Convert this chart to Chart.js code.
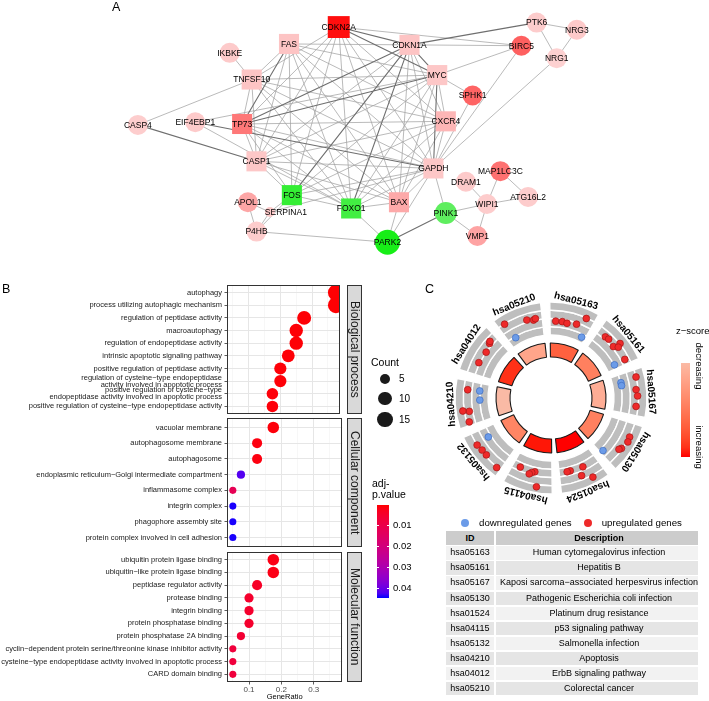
<!DOCTYPE html>
<html><head><meta charset="utf-8">
<script src="https://cdn.jsdelivr.net/npm/chart.js@4.4.1/dist/chart.umd.min.js"></script>
<style>
html,body{margin:0;padding:0;background:#fff;}
body{width:709px;height:701px;position:relative;overflow:hidden;font-family:"Liberation Sans",Arial,Helvetica,sans-serif;color:#000;}
canvas{position:absolute;}
.t{position:absolute;white-space:nowrap;line-height:1.15;}
.strip{position:absolute;background:#D9D9D9;border:1px solid #333;box-sizing:border-box;font-size:12px;color:#1a1a1a;display:flex;align-items:center;justify-content:center;overflow:hidden;}
.strip span{writing-mode:vertical-rl;white-space:nowrap;}
.dot{position:absolute;border-radius:50%;}
#tbl{position:absolute;left:446px;top:531px;width:252px;height:170px;overflow:hidden;}
.cell{position:absolute;font-size:9px;line-height:13.5px;text-align:center;white-space:nowrap;overflow:visible;}
</style></head><body>
<canvas id="cA" width="709" height="280" style="left:0;top:0"></canvas>
<canvas id="cBP" width="348" height="153" style="left:0;top:273px"></canvas>
<canvas id="cCC" width="348" height="153" style="left:0;top:406px"></canvas>
<canvas id="cMF" width="348" height="161" style="left:0;top:540px"></canvas>
<canvas id="cC1" width="250" height="250" style="left:426px;top:273px"></canvas>
<canvas id="cC2" width="250" height="250" style="left:426px;top:273px"></canvas>
<div id="html"></div>
<script>
// ================= DATA =================
// Panel A: PPI network (genes, logFC, key-gene flag, interactions)
const geneNames = ['CDKN2A','FAS','IKBKE','TNFSF10','CASP4','EIF4EBP1','TP73','CASP1','CDKN1A','MYC','CXCR4','GAPDH','BAX','FOS','FOXO1','PARK2','PINK1','APOL1','SERPINA1','P4HB','PTK6','NRG3','NRG1','BIRC5','SPHK1','MAP1LC3C','DRAM1','ATG16L2','WIPI1','VMP1'];
const geneLogFC = [4.0,1.25,1.15,1.25,1.1,1.15,2.4,1.2,1.25,1.2,1.45,1.2,1.65,-2.6,-2.4,-3.0,-2.0,1.7,1.15,1.12,1.12,1.15,1.05,2.75,2.7,2.5,1.15,1.12,1.12,1.75];
const geneIsKey = [1,1,0,1,0,0,1,1,1,1,1,1,1,1,1,0,0,0,0,0,0,0,0,0,0,0,0,0,0,0];
const interactionsStrong = [['TP73','MYC'],['TP73','CDKN1A'],['TP73','FAS'],['CDKN1A','FOXO1'],['CDKN1A','FOS'],['CDKN2A','MYC'],['CDKN2A','CDKN1A'],['PINK1','PARK2'],['CDKN1A','PTK6'],['MYC','GAPDH'],['CDKN1A','MYC'],['CASP4','CASP1'],['EIF4EBP1','GAPDH']];
const interactionsWeak = [
['IKBKE','TNFSF10'],['CASP4','TNFSF10'],['PTK6','NRG3'],['PTK6','NRG1'],['NRG3','NRG1'],
['BIRC5','CDKN1A'],['BIRC5','CDKN2A'],['BIRC5','MYC'],['BIRC5','GAPDH'],['SPHK1','MYC'],['SPHK1','GAPDH'],['NRG1','GAPDH'],
['MAP1LC3C','WIPI1'],['MAP1LC3C','ATG16L2'],['DRAM1','WIPI1'],['WIPI1','ATG16L2'],['WIPI1','PINK1'],['WIPI1','VMP1'],['PINK1','VMP1'],
['PINK1','GAPDH'],['PARK2','GAPDH'],['PARK2','BAX'],['PARK2','P4HB'],['PARK2','FOXO1'],
['APOL1','SERPINA1'],['APOL1','P4HB'],['SERPINA1','P4HB'],['SERPINA1','FOS'],['SERPINA1','GAPDH'],['P4HB','FOS'],
['CDKN2A','GAPDH'],['CDKN2A','TP73'],['CDKN2A','CASP1'],['CDKN2A','FOXO1'],['CDKN2A','BAX'],['CDKN2A','FOS'],['CDKN2A','CXCR4'],['CDKN2A','TNFSF10'],
['FAS','CDKN1A'],['FAS','MYC'],['FAS','GAPDH'],['FAS','BAX'],['FAS','CXCR4'],['FAS','CASP1'],['FAS','FOS'],['FAS','FOXO1'],['FAS','TNFSF10'],
['TNFSF10','MYC'],['TNFSF10','GAPDH'],['TNFSF10','BAX'],['TNFSF10','CASP1'],['TNFSF10','CXCR4'],['TNFSF10','FOXO1'],['TNFSF10','TP73'],
['TP73','GAPDH'],['TP73','BAX'],['TP73','CASP1'],['TP73','FOXO1'],['TP73','FOS'],['TP73','CXCR4'],
['EIF4EBP1','MYC'],['EIF4EBP1','FOXO1'],
['CASP1','GAPDH'],['CASP1','MYC'],['CASP1','BAX'],['CASP1','CXCR4'],['CASP1','FOXO1'],['CASP1','CDKN1A'],['CASP1','FOS'],
['CDKN1A','GAPDH'],['CDKN1A','BAX'],['CDKN1A','CXCR4'],
['MYC','CXCR4'],['MYC','BAX'],['MYC','FOXO1'],['MYC','FOS'],
['CXCR4','GAPDH'],['CXCR4','FOXO1'],['CXCR4','FOS'],['CXCR4','BAX'],
['GAPDH','BAX'],['GAPDH','FOXO1'],['GAPDH','FOS'],['FOS','FOXO1'],['BAX','FOXO1']];

// Panel B: GO enrichment
const bpTerms = ['autophagy','process utilizing autophagic mechanism','regulation of peptidase activity','macroautophagy','regulation of endopeptidase activity','intrinsic apoptotic signaling pathway','positive regulation of peptidase activity',['regulation of cysteine\u2212type endopeptidase','activity involved in apoptotic process'],['positive regulation of cysteine\u2212type','endopeptidase activity involved in apoptotic process'],'positive regulation of cysteine\u2212type endopeptidase activity'];
const bpRatio = [0.375,0.375,0.275,0.25,0.25,0.225,0.2,0.2,0.175,0.175];
const bpCount = [15,15,11,10,10,9,8,8,7,7];
const bpPadj = [0.0002,0.0002,0.0004,0.0004,0.0004,0.0005,0.0006,0.0006,0.0007,0.0007];
const ccTerms = ['vacuolar membrane','autophagosome membrane','autophagosome','endoplasmic reticulum\u2212Golgi intermediate compartment','inflammasome complex','integrin complex','phagophore assembly site','protein complex involved in cell adhesion'];
const ccRatio = [0.175,0.125,0.125,0.075,0.05,0.05,0.05,0.05];
const ccCount = [7,5,5,3,2,2,2,2];
const ccPadj = [0.0008,0.0012,0.0012,0.042,0.012,0.0445,0.0445,0.0445];
const mfTerms = ['ubiquitin protein ligase binding','ubiquitin\u2212like protein ligase binding','peptidase regulator activity','protease binding','integrin binding','protein phosphatase binding','protein phosphatase 2A binding','cyclin\u2212dependent protein serine/threonine kinase inhibitor activity','cysteine\u2212type endopeptidase activity involved in apoptotic process','CARD domain binding'];
const mfRatio = [0.175,0.175,0.125,0.1,0.1,0.1,0.075,0.05,0.05,0.05];
const mfCount = [7,7,5,4,4,4,3,2,2,2];
const mfPadj = [0.0018,0.0018,0.004,0.005,0.005,0.005,0.006,0.0075,0.0075,0.0075];
const countBreaks = [5,10,15];
const padjBreaks = [0.01,0.02,0.03,0.04];

// Panel C: KEGG circle
const keggIDs = ['hsa05163','hsa05161','hsa05167','hsa05130','hsa01524','hsa04115','hsa05132','hsa04210','hsa04012','hsa05210'];
const keggDesc = ['Human cytomegalovirus infection','Hepatitis B','Kaposi sarcoma\u2212associated herpesvirus infection','Pathogenic Escherichia coli infection','Platinum drug resistance','p53 signaling pathway','Salmonella infection','Apoptosis','ErbB signaling pathway','Colorectal cancer'];
const keggZscore = [1.75,1.45,0.95,1.45,2.24,2.2,1.4,0.8,2.1,1.05];
const keggGeneTerm = [0,0,0,0,0,0, 1,1,1,1,1,1,1, 2,2,2,2,2,2, 3,3,3,3,3, 4,4,4,4,4, 5,5,5,5,5, 6,6,6,6,6, 7,7,7,7,7,7, 8,8,8,8, 9,9,9,9,9];
const keggGeneOrder = [.14,.30,.42,.65,.81,.90, .21,.30,.50,.54,.58,.89,.89, .16,.21,.29,.43,.57,.80, .30,.41,.60,.65,.92, .29,.39,.50,.72,.80, .33,.43,.50,.55,.81, .09,.44,.58,.73,.75, .08,.31,.34,.56,.80,.80, .29,.59,.80,.84, .15,.21,.64,.79,.84];
const keggGeneLogFC = [.4,.44,.28,.64,2.48,-1.44, 1.4,1.52,1.2,2.68,1.92,1.7,-0.72, 2.6,-0.72,-0.72,2.16,2.4,2.16, 2.64,2.8,2.4,2.1,-0.24, 3.0,.16,1.74,.06,.1, 3.1,.1,.4,.8,.1, 2.74,2.3,2.34,2.6,-0.26, 2.1,1.6,2.92,-0.8,1.8,-0.72, 1.1,.9,1.48,1.7, 2.52,-1.08,1.36,1.0,1.2];

// ================= LAYOUT / STYLE =================
const networkLayout = {CDKN2A:[338,13],FAS:[286,32],IKBKE:[224,42],TNFSF10:[247,72],CASP4:[128,123],EIF4EBP1:[188,120],TP73:[237,122],CASP1:[252,164],CDKN1A:[412,33],MYC:[441,67],CXCR4:[450,119],GAPDH:[437,172],BAX:[401,210],FOS:[289,202],FOXO1:[351,217],PARK2:[389,255],PINK1:[450,222],APOL1:[243,210],SERPINA1:[266,221],P4HB:[252,243],PTK6:[545,8],NRG3:[587,16],NRG1:[566,48],BIRC5:[529,34],SPHK1:[478,90],MAP1LC3C:[507,175],DRAM1:[471,187],ATG16L2:[536,204],WIPI1:[493,212],VMP1:[483,248]};
const nodeRadius = {PARK2:12.5,PINK1:11,SERPINA1:5,CDKN2A:15.5};
const labelShift = {SERPINA1:16};
const FONT = '"Liberation Sans", Arial, Helvetica, sans-serif';
Chart.defaults.font.family = FONT;
Chart.defaults.animation = false;
Chart.defaults.events = [];
Chart.defaults.plugins.legend.display = false;
Chart.defaults.plugins.tooltip.enabled = false;

// ---- colour helpers (Lab interpolation like ggplot) ----
function s2l(c){c/=255;return c<=0.04045?c/12.92:Math.pow((c+0.055)/1.055,2.4);}
function l2s(c){c=c<=0.0031308?12.92*c:1.055*Math.pow(c,1/2.4)-0.055;return Math.round(Math.min(1,Math.max(0,c))*255);}
function hex2rgb(h){return [1,3,5].map(i=>parseInt(h.substr(i,2),16));}
function rgb2lab(rgb){const [r,g,b]=rgb.map(s2l);const x=(r*0.4124+g*0.3576+b*0.1805)/0.95047,y=r*0.2126+g*0.7152+b*0.0722,z=(r*0.0193+g*0.1192+b*0.9505)/1.08883;const f=t=>t>0.008856?Math.cbrt(t):7.787*t+16/116;const fx=f(x),fy=f(y),fz=f(z);return [116*fy-16,500*(fx-fy),200*(fy-fz)];}
function lab2rgb([L,a,bb]){const fy=(L+16)/116,fx=fy+a/500,fz=fy-bb/200;const fi=t=>t>0.206893?t*t*t:(t-16/116)/7.787;const x=fi(fx)*0.95047,y=fi(fy),z=fi(fz)*1.08883;return [l2s(x*3.2406-y*1.5372-z*0.4986),l2s(-x*0.9689+y*1.8758+z*0.0415),l2s(x*0.0557-y*0.2040+z*1.0570)];}
function labMix(h1,h2,t){t=Math.max(0,Math.min(1,t));const a=rgb2lab(hex2rgb(h1)),b=rgb2lab(hex2rgb(h2));const c=lab2rgb(a.map((v,i)=>v+(b[i]-v)*t));return 'rgb('+c.join(',')+')';}
function rgbMix(h1,h2,t){t=Math.max(0,Math.min(1,t));const a=hex2rgb(h1),b=hex2rgb(h2);return 'rgb('+a.map((v,i)=>Math.round(v+(b[i]-v)*t)).join(',')+')';}
const P_MIN=0, P_MAX=0.0448;
const padjColor = p => labMix('#FF0000','#0000FF',(p-P_MIN)/(P_MAX-P_MIN));
const Z_MIN=0.8, Z_MAX=2.24;
const zColor = z => labMix('#FABAA5','#FF0000',(z-Z_MIN)/(Z_MAX-Z_MIN));
const nodeColor = v => v>0 ? rgbMix('#FDD4D4','#FF0E0E',(v-1)/3) : rgbMix('#66EE66','#10EE10',(-v-1.9)/1.2);

// ================= PANEL A =================
const posOf = g => ({x:networkLayout[g][0], y:networkLayout[g][1]});
const edgePts = list => list.flatMap(([a,b])=>[posOf(a),posOf(b),{x:null,y:null}]);
const nodeLabelPlugin = {id:'nodeLabels', afterDatasetsDraw(chart){
  const ctx=chart.ctx, meta=chart.getDatasetMeta(0);
  ctx.save(); ctx.font='8.5px '+FONT; ctx.fillStyle='#000'; ctx.textAlign='center'; ctx.textBaseline='middle';
  meta.data.forEach((el,i)=>ctx.fillText(geneNames[i], el.x+(labelShift[geneNames[i]]||0), el.y+0.5));
  ctx.restore();
}};
new Chart(document.getElementById('cA'), {
  type:'scatter',
  data:{datasets:[
    {data:geneNames.map(posOf), order:0,
     pointStyle:geneNames.map((g,i)=>geneIsKey[i]?'rect':'circle'),
     pointRadius:geneNames.map((g,i)=>nodeRadius[g]||(geneIsKey[i]?14.2:10)),
     pointBackgroundColor:geneLogFC.map(nodeColor), pointBorderWidth:0},
    {data:edgePts(interactionsStrong), order:1, showLine:true, spanGaps:false, borderColor:'#6f6f6f', borderWidth:1.1, pointRadius:0},
    {data:edgePts(interactionsWeak), order:2, showLine:true, spanGaps:false, borderColor:'#a3a3a3', borderWidth:0.75, pointRadius:0}
  ]},
  options:{responsive:false, clip:false, layout:{padding:0},
    scales:{x:{type:'linear',display:false,min:0,max:709}, y:{type:'linear',display:false,min:0,max:280,reverse:true}}},
  plugins:[nodeLabelPlugin]
});

// ================= PANEL B =================
const panelBorder = {id:'pb', afterDraw(chart){const {ctx,chartArea:a}=chart;ctx.save();ctx.strokeStyle='#333';ctx.lineWidth=1;ctx.strokeRect(Math.round(a.left)+0.5,Math.round(a.top)+0.5,Math.round(a.right-a.left)-1,Math.round(a.bottom-a.top)-1);ctx.restore();}};
const isMajor = v => Math.round(v*100)%10===0;
function facet(id, terms, ratio, count, padj, bottom){
  const n=terms.length;
  new Chart(document.getElementById(id), {
    type:'scatter',
    data:{datasets:[{data:ratio.map((r,i)=>({x:r,y:i})), pointRadius:count.map(c=>1+1.8*Math.sqrt(c)), pointBackgroundColor:padj.map(padjColor), pointBorderWidth:0}]},
    options:{responsive:false, layout:{padding:{top:12,bottom:bottom?0:12,left:0,right:1}},
      scales:{
        x:{type:'linear',min:0.032,max:0.388,border:{display:false},
          ticks:{stepSize:0.05,includeBounds:false,display:bottom,autoSkip:false,maxRotation:0,padding:0,color:'#4D4D4D',font:{size:8},callback:v=>isMajor(v)?(Math.round(v*10)/10).toFixed(1):''},
          grid:{color:c=>isMajor(c.tick.value)?'#E6E6E6':'#F1F1F1',lineWidth:c=>isMajor(c.tick.value)?1:0.6,drawTicks:bottom,tickLength:2.5,tickColor:c=>isMajor(c.tick.value)?'#333':'rgba(0,0,0,0)',tickWidth:0.8},
          title:{display:bottom,text:'GeneRatio',font:{size:7.5},color:'#000',padding:{top:0,bottom:0}},
          afterFit:s=>{s.height=bottom?19:0;}},
        y:{type:'linear',reverse:true,min:-0.6,max:n-0.4,border:{display:false},
          ticks:{stepSize:1,includeBounds:false,autoSkip:false,padding:2.5,color:'#1a1a1a',font:{size:7.5,lineHeight:0.9},callback:v=>Number.isInteger(v)?terms[v]:''},
          grid:{color:'#E6E6E6',lineWidth:1,tickLength:2.5,tickColor:'#333',tickWidth:0.8},
          afterFit:s=>{s.width=227;}}
      }},
    plugins:[panelBorder]
  });
}
facet('cBP', bpTerms, bpRatio, bpCount, bpPadj, false);
facet('cCC', ccTerms, ccRatio, ccCount, ccPadj, false);
facet('cMF', mfTerms, mfRatio, mfCount, mfPadj, true);

// ================= PANEL C =================
const TERM_SPAN=30.5, TERM_GAP=5.5, ROT=-0.75;
const termStart = i => ROT + i*(TERM_SPAN+TERM_GAP);
const arcData = keggIDs.flatMap(()=>[TERM_SPAN,TERM_GAP]);
const clear='rgba(0,0,0,0)';
const track = () => ({data:arcData, weight:8.25, backgroundColor:arcData.map((v,i)=>i%2?clear:'#BEBEBE'), borderColor:'#fff', borderWidth:arcData.map((v,i)=>i%2?0:1.4)});
new Chart(document.getElementById('cC1'), {
  type:'doughnut',
  data:{labels:arcData.map((v,i)=>i), datasets:[track(),track(),track(),track(),
    {data:arcData, weight:8, backgroundColor:clear, borderWidth:0},
    {data:arcData, weight:14, backgroundColor:arcData.map((v,i)=>i%2?clear:zColor(keggZscore[i>>1])), borderColor:'#1a1a1a', borderWidth:arcData.map((v,i)=>i%2?0:1.1)}]},
  options:{responsive:false, rotation:ROT, radius:96, cutout:(41/96*100)+'%', layout:{padding:0}}
});
const LFC_R0=78, LFC_K=5, LABEL_R=104;
const genePts = keggGeneTerm.map((t,i)=>{const th=(termStart(t)+keggGeneOrder[i]*TERM_SPAN)*Math.PI/180;const r=LFC_R0+LFC_K*keggGeneLogFC[i];return {x:r*Math.sin(th),y:r*Math.cos(th)};});
const termLabelPlugin = {id:'termLabels', afterDraw(chart){
  const {ctx,scales:{x,y}}=chart;
  ctx.save(); ctx.font='bold 10px '+FONT; ctx.fillStyle='#000'; ctx.textAlign='center'; ctx.textBaseline='middle';
  keggIDs.forEach((id,i)=>{const th=(termStart(i)+TERM_SPAN/2)*Math.PI/180;ctx.save();ctx.translate(x.getPixelForValue(LABEL_R*Math.sin(th)),y.getPixelForValue(LABEL_R*Math.cos(th)));ctx.rotate(th);ctx.fillText(id,0,0);ctx.restore();});
  ctx.restore();
}};
new Chart(document.getElementById('cC2'), {
  type:'scatter',
  data:{datasets:[{data:genePts, pointRadius:3.4, pointBackgroundColor:keggGeneLogFC.map(v=>v>0?'#EE2A2A':'#6B9BE8'), pointBorderColor:keggGeneLogFC.map(v=>v>0?'#A51515':'#3D6CC0'), pointBorderWidth:0.7}]},
  options:{responsive:false, clip:false, layout:{padding:0}, scales:{x:{type:'linear',display:false,min:-125,max:125}, y:{type:'linear',display:false,min:-125,max:125}}},
  plugins:[termLabelPlugin]
});

// ================= HTML annotations (legends, strips, table) =================
const H = document.getElementById('html');
function txt(s, left, top, size, extra){const d=document.createElement('div');d.className='t';d.textContent=s;d.style.left=left+'px';d.style.top=top+'px';d.style.fontSize=size+'px';if(extra)Object.assign(d.style,extra);H.appendChild(d);return d;}
function box(left, top, w, h, style){const d=document.createElement('div');d.style.position='absolute';d.style.left=left+'px';d.style.top=top+'px';d.style.width=w+'px';d.style.height=h+'px';Object.assign(d.style,style||{});H.appendChild(d);return d;}
// panel letters
txt('A',112,0,12.5); txt('B',2,281.5,12.5); txt('C',425,281.5,12.5);
// strips
[['Biological process',285,129],['Cellular component',418,129],['Molecular function',552,130]].forEach(([s,top,h])=>{const d=box(347,top,15,h);d.className='strip';d.style.position='absolute';const sp=document.createElement('span');sp.textContent=s;d.appendChild(sp);});
// Count legend
txt('Count',371,355.5,10.5);
const cy=[379,398.5,419.5];
countBreaks.forEach((c,i)=>{const r=1+1.8*Math.sqrt(c);box(385-r,cy[i]-r,2*r,2*r,{borderRadius:'50%',background:'#1a1a1a'});txt(String(c),399,cy[i]-6,10);});
// adj p legend
txt('adj-',372,476.5,10.5); txt('p.value',372,488,10.5);
const CB_T=505, CB_B=598;
const stops=[];for(let k=0;k<=20;k++){const p=P_MIN+(P_MAX-P_MIN)*k/20;stops.push(padjColor(p)+' '+(k*5)+'%');}
box(377,CB_T,12,CB_B-CB_T,{background:'linear-gradient(to bottom,'+stops.join(',')+')'});
padjBreaks.forEach(p=>{const y=CB_T+(p-P_MIN)/(P_MAX-P_MIN)*(CB_B-CB_T);box(377,y-0.4,2.4,0.8,{background:'#fff'});box(386.6,y-0.4,2.4,0.8,{background:'#fff'});txt(p.toFixed(2),393,y-5.5,9.5);});
// z-score legend
txt('z\u2212score',676,326,9.5);
const zs=[];for(let k=0;k<=10;k++){zs.push(zColor(Z_MIN+(Z_MAX-Z_MIN)*k/10)+' '+(k*10)+'%');}
box(681,363,9,94,{background:'linear-gradient(to bottom,'+zs.join(',')+')'});
txt('decreasing',698.5,366,9.6,{transform:'translate(-50%,-50%) rotate(90deg)'});
txt('increasing',698.5,447,9.6,{transform:'translate(-50%,-50%) rotate(90deg)'});
// gene legend
box(461,518.7,8,8,{borderRadius:'50%',background:'#6B9BE8'}); txt('downregulated genes',479,516.8,9.7);
box(583.7,518.7,8,8,{borderRadius:'50%',background:'#EE2A2A'}); txt('upregulated genes',601.7,516.8,9.7);
// table
const T=document.createElement('div');T.id='tbl';H.appendChild(T);
function cell(s,left,top,w,h,bg,bold){const d=document.createElement('div');d.className='cell';d.textContent=s;Object.assign(d.style,{left:left+'px',top:top+'px',width:w+'px',height:h+'px',background:bg,lineHeight:h+'px',fontWeight:bold?'bold':'normal'});T.appendChild(d);}
cell('ID',0,0,48,14,'#CCCCCC',true); cell('Description',50,0,206,14,'#CCCCCC',true);
keggIDs.forEach((id,i)=>{const top=15.3+i*15.07;const bg=i%2?'#E5E5E5':'#F2F2F2';cell(id,0,top,48,13.5,bg,false);cell(keggDesc[i],50,top,206,13.5,bg,false);});
</script>
</body></html>
